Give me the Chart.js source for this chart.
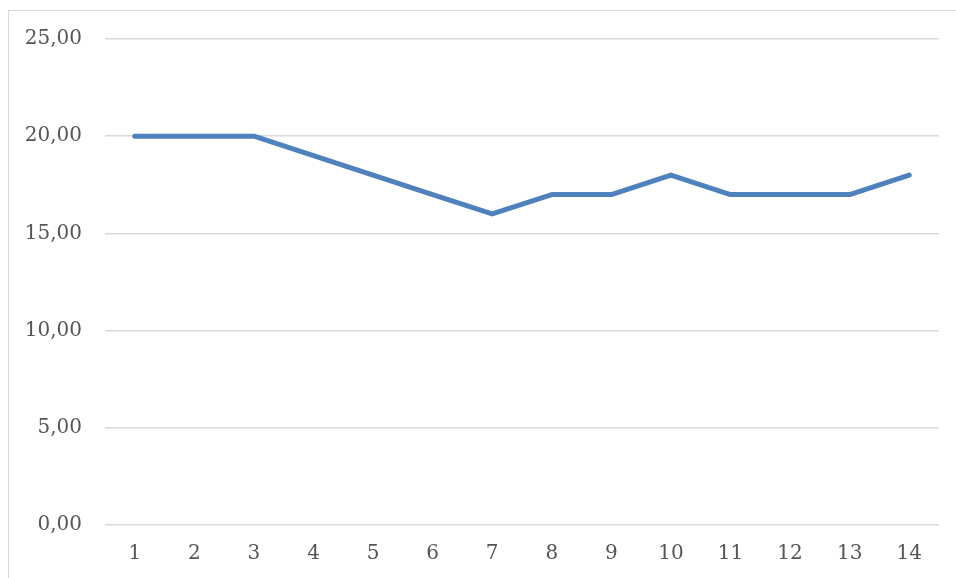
<!DOCTYPE html>
<html>
<head>
<meta charset="utf-8">
<script src="https://cdn.jsdelivr.net/npm/chart.js@4.4.0/dist/chart.umd.min.js"></script>
<style>
    body { margin: 0; background: #fff; overflow: hidden; }
    #frame { position: absolute; left: 8px; top: 10px; width: 980px; height: 600px; border: 1px solid #d9d9d9; }
    #wrap { position: absolute; left: 0; top: 0; width: 956px; height: 578px; }
</style>
</head>
<body>
<div id="frame"></div>
<div id="wrap"><canvas id="chart"></canvas></div>
<script>
var categories = ['1', '2', '3', '4', '5', '6', '7', '8', '9', '10', '11', '12', '13', '14'];
var values = [20, 20, 20, 19, 18, 17, 16, 17, 17, 18, 17, 17, 17, 18];
var yTicks = [0, 5, 10, 15, 20, 25];

var textColor = '#555555';
var gridColor = '#d9d9d9';
var font = { family: 'DejaVu Serif', size: 20 };

var ctx = document.getElementById('chart').getContext('2d');
var chart = new Chart(ctx, {
    type: 'line',
    data: {
        labels: categories,
        datasets: [{
            label: 'Series 1',
            data: values,
            borderColor: '#4f81bd',
            borderWidth: 5,
            borderCapStyle: 'round',
            borderJoinStyle: 'round',
            pointRadius: 0,
            fill: false,
            tension: 0
        }]
    },
    options: {
        responsive: true,
        maintainAspectRatio: false,
        animation: false,
        layout: {
            padding: { left: 0, right: 17, top: 39, bottom: 0 }
        },
        plugins: {
            legend: { display: false },
            tooltip: { enabled: false }
        },
        scales: {
            x: {
                offset: true,
                grid: { display: false, drawTicks: false },
                border: { display: false },
                ticks: { color: textColor, font: font, padding: 17, maxRotation: 0 },
                afterFit: function(scale) { scale.height = 53; }
            },
            y: {
                min: yTicks[0],
                max: yTicks[yTicks.length - 1],
                afterBuildTicks: function(scale) {
                    scale.ticks = yTicks.map(function(v) { return { value: v }; });
                },
                grid: { color: gridColor, lineWidth: 1.5, drawTicks: false },
                border: { display: false },
                ticks: {
                    color: textColor,
                    font: font,
                    padding: 23,
                    callback: function(v) { return v.toFixed(2).replace('.', ','); }
                },
                afterFit: function(scale) { scale.width = 105; }
            }
        }
    }
});
</script>
</body>
</html>
